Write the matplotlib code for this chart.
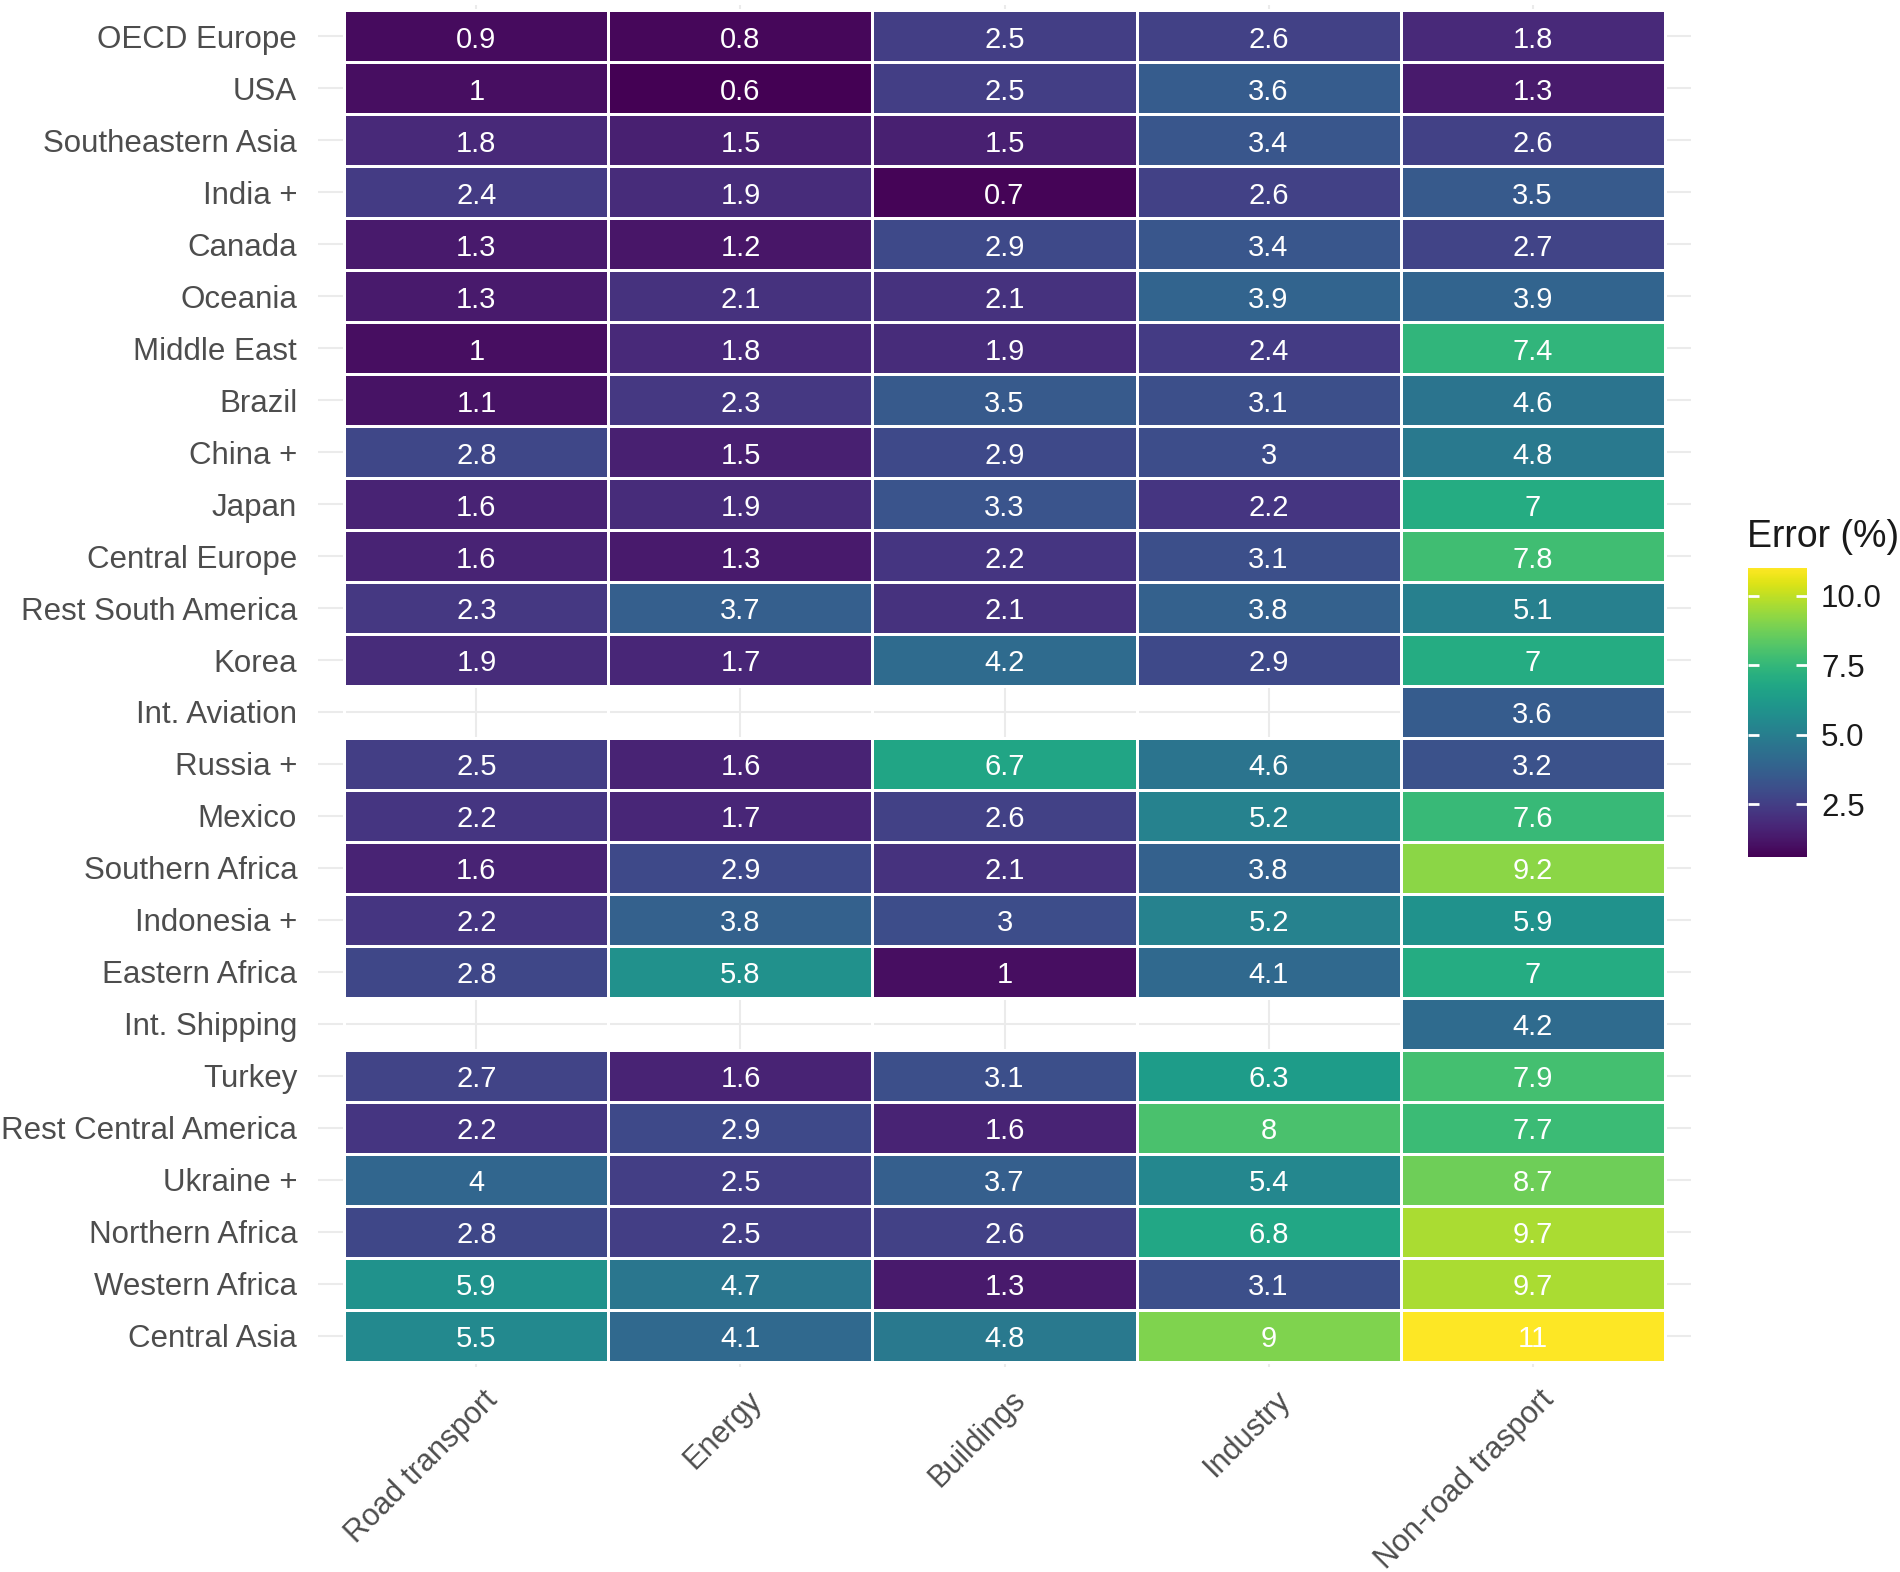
import numpy as np
import matplotlib
matplotlib.use("Agg")
import matplotlib.pyplot as plt
from matplotlib.transforms import offset_copy, ScaledTranslation

plt.rcParams['font.family'] = ['Liberation Sans', 'DejaVu Sans']

regions = ["OECD Europe", "USA", "Southeastern Asia", "India +", "Canada", "Oceania",
           "Middle East", "Brazil", "China +", "Japan", "Central Europe",
           "Rest South America", "Korea", "Int. Aviation", "Russia +", "Mexico",
           "Southern Africa", "Indonesia +", "Eastern Africa", "Int. Shipping",
           "Turkey", "Rest Central America", "Ukraine +", "Northern Africa",
           "Western Africa", "Central Asia"]

sectors = ["Road transport", "Energy", "Buildings", "Industry", "Non-road trasport"]

nan = np.nan
road_transport = [0.9, 1, 1.8, 2.4, 1.3, 1.3, 1, 1.1, 2.8, 1.6, 1.6, 2.3, 1.9, nan,
                  2.5, 2.2, 1.6, 2.2, 2.8, nan, 2.7, 2.2, 4, 2.8, 5.9, 5.5]
energy = [0.8, 0.6, 1.5, 1.9, 1.2, 2.1, 1.8, 2.3, 1.5, 1.9, 1.3, 3.7, 1.7, nan,
          1.6, 1.7, 2.9, 3.8, 5.8, nan, 1.6, 2.9, 2.5, 2.5, 4.7, 4.1]
buildings = [2.5, 2.5, 1.5, 0.7, 2.9, 2.1, 1.9, 3.5, 2.9, 3.3, 2.2, 2.1, 4.2, nan,
             6.7, 2.6, 2.1, 3, 1, nan, 3.1, 1.6, 3.7, 2.6, 1.3, 4.8]
industry = [2.6, 3.6, 3.4, 2.6, 3.4, 3.9, 2.4, 3.1, 3, 2.2, 3.1, 3.8, 2.9, nan,
            4.6, 5.2, 3.8, 5.2, 4.1, nan, 6.3, 8, 5.4, 6.8, 3.1, 9]
non_road_transport = [1.8, 1.3, 2.6, 3.5, 2.7, 3.9, 7.4, 4.6, 4.8, 7, 7.8, 5.1, 7, 3.6,
                      3.2, 7.6, 9.2, 5.9, 7, 4.2, 7.9, 7.7, 8.7, 9.7, 9.7, 11]

cbar_ticks = [2.5, 5.0, 7.5, 10.0]
cbar_ticklabels = ["2.5", "5.0", "7.5", "10.0"]

data = np.array([road_transport, energy, buildings, industry, non_road_transport]).T
masked = np.ma.masked_invalid(data)

W, H = 1900, 1572
fig = plt.figure(figsize=(W / 100, H / 100), dpi=100)
fig.patch.set_facecolor('white')

# axes (panel incl. expansion)
left, right = 318, 1691
top, bottom = 5, 1367
ax = fig.add_axes([left / W, 1 - bottom / H, (right - left) / W, (bottom - top) / H])

nr, nc = data.shape
xedges = np.arange(nc + 1) - 0.5
yedges = np.arange(nr + 1) - 0.5
vmin, vmax = np.nanmin(data), np.nanmax(data)
mesh = ax.pcolormesh(xedges, yedges, masked, cmap='viridis', vmin=vmin, vmax=vmax,
                     edgecolors='white', linewidth=2.0, zorder=2)

txt_tr = offset_copy(ax.transData, fig=fig, x=0, y=-2.5, units='points')
for i in range(nr):
    for j in range(nc):
        v = data[i, j]
        if not np.isnan(v):
            ax.text(j, i, f"{v:g}", ha='center', va='center', color='white',
                    fontsize=21, zorder=3, transform=txt_tr)

ax.set_xlim(-0.6, nc - 0.4)
ax.set_ylim(nr - 0.4, -0.6)
ax.set_xticks(np.arange(nc))
ax.set_yticks(np.arange(nr))
ax.set_yticklabels(regions, fontsize=22.5, color='#4D4D4D')
ax.set_xticklabels(sectors, fontsize=22, color='#4D4D4D', rotation=45,
                   ha='right', va='top', rotation_mode='anchor')
ax.tick_params(axis='both', length=0)
ax.tick_params(axis='y', pad=15)
ax.tick_params(axis='x', pad=13)
shift = ScaledTranslation(0.06, 0, fig.dpi_scale_trans)
for lbl in ax.get_xticklabels():
    lbl.set_transform(lbl.get_transform() + shift)
ax.set_axisbelow(True)
ax.grid(True, color='#EBEBEB', linewidth=1.5, zorder=0)
for s in ax.spines.values():
    s.set_visible(False)

# colorbar
cl, cr, ct, cbt = 1748, 1807, 568, 857
cax = fig.add_axes([cl / W, 1 - cbt / H, (cr - cl) / W, (cbt - ct) / H])
cb = fig.colorbar(mesh, cax=cax)
cb.outline.set_visible(False)
cb.set_ticks(cbar_ticks)
cb.set_ticklabels(cbar_ticklabels)
cax.set_axisbelow(False)
cax.yaxis.set_tick_params(which='major', direction='in', left=True, right=True,
                          color='white', length=8, width=2, labelsize=22.5,
                          labelcolor='#1A1A1A', pad=10)
cax.minorticks_off()

fig.text(1747 / W, 1 - 547 / H, "Error (%)", fontsize=27, color='#1A1A1A',
         ha='left', va='baseline')

fig.savefig("out.png", dpi=100, facecolor='white')
